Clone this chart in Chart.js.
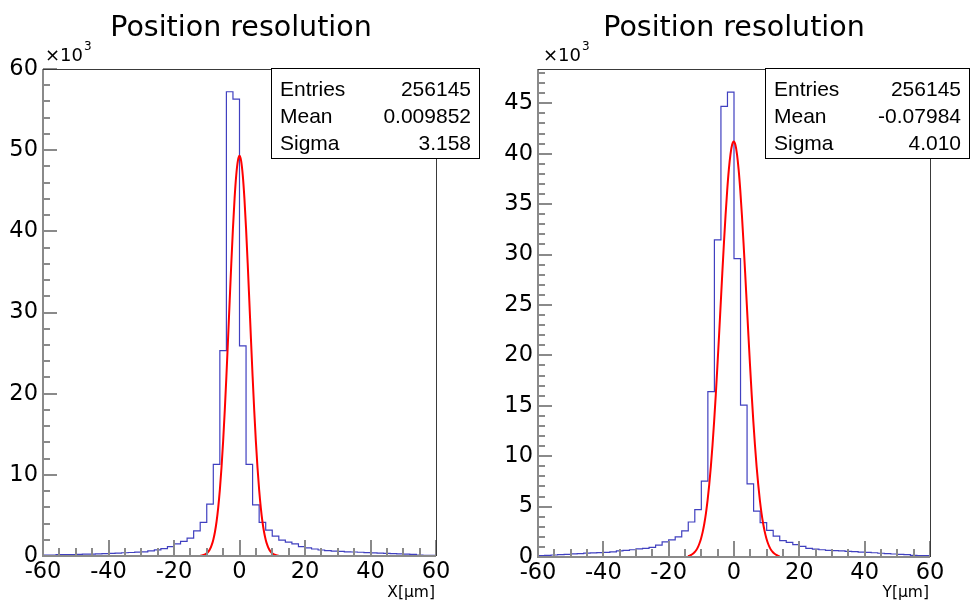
<!DOCTYPE html>
<html><head><meta charset="utf-8">
<script src="https://cdn.jsdelivr.net/npm/chart.js@4.4.1/dist/chart.umd.min.js"></script>
<style>
html,body{margin:0;padding:0;background:#fff;}
#wrap{position:relative;width:970px;height:606px;overflow:hidden;}
.c{position:absolute;top:0;width:485px;height:606px;}
</style></head><body>
<div id="wrap">
<div class="c" style="left:0"><canvas id="cx" width="485" height="606"></canvas></div>
<div class="c" style="left:485px"><canvas id="cy" width="485" height="606"></canvas></div>
</div>
<script>
// ---------- data (counts in units of 10^3) ----------
const BIN_MIN = -60, BIN_WIDTH = 2, BIN_COUNT = 60;
const xCounts = [0.08,0.10,0.12,0.16,0.17,0.18,0.20,0.22,0.24,0.27,
  0.30,0.33,0.36,0.40,0.43,0.47,0.52,0.62,0.75,0.90,
  1.15,1.50,1.80,2.20,3.10,4.15,6.40,11.3,25.3,57.2,
  56.3,25.9,11.3,6.30,4.15,3.20,2.45,1.95,1.70,1.50,
  1.15,1.00,0.86,0.74,0.66,0.60,0.56,0.52,0.49,0.46,
  0.42,0.39,0.36,0.33,0.29,0.25,0.22,0.19,0.12,0.08];
const yCounts = [0.13,0.14,0.16,0.20,0.23,0.27,0.31,0.34,0.38,0.40,
  0.44,0.46,0.50,0.60,0.65,0.72,0.80,0.85,0.96,1.18,
  1.50,1.70,2.00,2.60,3.47,4.69,7.53,16.4,31.45,44.7,
  46.1,29.6,15.06,7.26,4.55,3.40,2.65,2.07,1.63,1.45,
  1.22,1.06,0.86,0.78,0.72,0.66,0.63,0.60,0.56,0.53,
  0.48,0.45,0.42,0.37,0.33,0.30,0.26,0.23,0.16,0.13];
// gaussian fit curves (x in um, y in 10^3)
const xFitX = [-12,-11.5,-11,-10.5,-10,-9.5,-9,-8.5,-8,-7.5,-7,-6.5,-6,-5.5,-5,-4.5,-4,-3.5,-3,-2.5,-2,-1.5,-1,-0.5,0,
  0.5,1,1.5,2,2.5,3,3.5,4,4.5,5,5.5,6,6.5,7,7.5,8,8.5,9,9.5,10,10.5,11,11.5,12];
const xFitY = [0.037,0.066,0.116,0.199,0.332,0.541,0.859,1.33,2.01,2.96,4.25,5.96,8.15,10.87,14.12,17.91,22.15,26.72,31.43,36.07,40.36,44.06,46.90,48.69,49.3,
  48.69,46.90,44.06,40.36,36.07,31.43,26.72,22.15,17.91,14.12,10.87,8.15,5.96,4.25,2.96,2.01,1.33,0.859,0.541,0.332,0.199,0.116,0.066,0.037];
const yFitX = [-14.08,-13.58,-13.08,-12.58,-12.08,-11.58,-11.08,-10.58,-10.08,-9.58,-9.08,-8.58,-8.08,-7.58,-7.08,-6.58,-6.08,-5.58,-5.08,-4.58,-4.08,-3.58,-3.08,-2.58,-2.08,-1.58,-1.08,-0.58,-0.08,
  0.42,0.92,1.42,1.92,2.42,2.92,3.42,3.92,4.42,4.92,5.42,5.92,6.42,6.92,7.42,7.92,8.42,8.92,9.42,9.92,10.42,10.92,11.42,11.92,12.42,12.92,13.42,13.92];
const yFitY = [0.093,0.142,0.215,0.320,0.468,0.674,0.957,1.34,1.84,2.49,3.32,4.36,5.63,7.17,8.98,11.08,13.45,16.08,18.94,21.95,25.05,28.15,31.14,33.92,36.38,38.42,39.94,40.88,41.2,
  40.88,39.94,38.42,36.38,33.92,31.14,28.15,25.05,21.95,18.94,16.08,13.45,11.08,8.98,7.17,5.63,4.36,3.32,2.49,1.84,1.34,0.957,0.674,0.468,0.320,0.215,0.142,0.093];
const xTickValues = [-60,-40,-20,0,20,40,60];
const xLeftYTicks = [0,10,20,30,40,50,60];
const yRightYTicks = [0,5,10,15,20,25,30,35,40,45];
const statsX = {entries:'256145', mean:'0.009852', sigma:'3.158'};
const statsY = {entries:'256145', mean:'-0.07984', sigma:'4.010'};

const FONT = '"DejaVu Sans", sans-serif';
const BOXFONT = '"Liberation Sans", Arial, sans-serif';

function histPoints(counts){
  const pts = [];
  for (let i = 0; i < counts.length; i++) pts.push({x: BIN_MIN + i*BIN_WIDTH, y: counts[i]});
  pts.push({x: BIN_MIN + counts.length*BIN_WIDTH, y: counts[counts.length-1]});
  return pts;
}
function fitPoints(xs, ys){ return xs.map((x,i)=>({x, y: ys[i]})); }

function makeChart(id, o){
  const deco = {
    id: 'deco'+id,
    afterDraw(chart){
      const ctx = chart.ctx, ca = chart.chartArea, xs = chart.scales.x, ys = chart.scales.y;
      ctx.save();
      // ticks inside the frame
      ctx.strokeStyle = '#8a8a8a'; ctx.lineWidth = 2;
      ctx.beginPath();
      for (let v = -60; v <= 60; v += 5){
        const px = Math.round(xs.getPixelForValue(v));
        const len = (v % 20 === 0) ? 16 : 8;
        ctx.moveTo(px, ca.bottom); ctx.lineTo(px, ca.bottom - len);
      }
      for (let v = 0; v <= o.ymax + 1e-9; v += o.yMinor){
        const py = Math.round(ys.getPixelForValue(v));
        const len = (Math.abs(v/o.yMajor - Math.round(v/o.yMajor)) < 1e-6) ? 14 : 7;
        ctx.moveTo(ca.left, py); ctx.lineTo(ca.left + len, py);
      }
      ctx.stroke();
      // axis lines
      ctx.beginPath();
      ctx.moveTo(ca.left, ca.top); ctx.lineTo(ca.left, ca.bottom); ctx.lineTo(ca.right, ca.bottom);
      ctx.stroke();
      // top/right frame
      ctx.strokeStyle = '#3a3a3a'; ctx.lineWidth = 1;
      ctx.beginPath();
      ctx.moveTo(ca.left, Math.round(ca.top)+0.5); ctx.lineTo(Math.round(ca.right)+0.5, Math.round(ca.top)+0.5);
      ctx.lineTo(Math.round(ca.right)+0.5, ca.bottom);
      ctx.stroke();
      // title
      ctx.fillStyle = '#000';
      ctx.textBaseline = 'alphabetic';
      ctx.textAlign = 'center';
      ctx.font = '28.5px ' + FONT;
      ctx.fillText('Position resolution', o.titleX, 36);
      // x10^3
      ctx.textAlign = 'left';
      ctx.font = '18px ' + FONT;
      ctx.fillText('\u00d710', o.expX, 61);
      const w = ctx.measureText('\u00d710').width;
      ctx.font = '12px ' + FONT;
      ctx.fillText('3', o.expX + w + 1, 50);
      // axis label
      ctx.textAlign = 'right';
      ctx.font = '15.5px ' + FONT;
      ctx.fillText(o.axisLabel, ca.right - 1, 597);
      // stats box
      const b = o.box;
      ctx.fillStyle = '#fff';
      ctx.fillRect(b.x, b.y, b.w, b.h);
      ctx.strokeStyle = '#000'; ctx.lineWidth = 1;
      ctx.strokeRect(b.x + 0.5, b.y + 0.5, b.w, b.h);
      ctx.fillStyle = '#000';
      ctx.font = '21px ' + BOXFONT;
      const rows = [['Entries', o.stats.entries], ['Mean', o.stats.mean], ['Sigma', o.stats.sigma]];
      rows.forEach((r, i) => {
        const yy = 96 + i*27;
        ctx.textAlign = 'left'; ctx.fillText(r[0], b.x + 9, yy);
        ctx.textAlign = 'right'; ctx.fillText(r[1], b.x + b.w - 8, yy);
      });
      ctx.restore();
    }
  };
  return new Chart(document.getElementById(id), {
    type: 'line',
    data: { datasets: [
      { data: fitPoints(o.fitX, o.fitY), borderColor: '#ff0000', borderWidth: 2, pointRadius: 0,
        cubicInterpolationMode: 'monotone', fill: false, order: 1 },
      { data: histPoints(o.counts), stepped: 'after', borderColor: '#4040c0', borderWidth: 1.2,
        pointRadius: 0, fill: false, order: 2 }
    ]},
    options: {
      responsive: false, animation: false, devicePixelRatio: 1,
      layout: { padding: { top: 69, right: o.padRight, left: 0, bottom: 0 } },
      plugins: { legend: { display: false }, tooltip: { enabled: false }, title: { display: false } },
      scales: {
        x: {
          type: 'linear', min: -60, max: 60,
          grid: { display: false, drawTicks: false }, border: { display: false },
          afterBuildTicks: s => { s.ticks = xTickValues.map(v => ({ value: v })); },
          afterFit: s => { s.height = o.xh; },
          ticks: { font: { family: FONT, size: 22.5 }, color: '#000', padding: 3, maxRotation: 0,
                   autoSkip: false, callback: v => String(v) }
        },
        y: {
          type: 'linear', min: 0, max: o.ymax,
          grid: { display: false, drawTicks: false }, border: { display: false },
          afterBuildTicks: s => { s.ticks = o.yTicks.map(v => ({ value: v })); },
          afterFit: s => { s.width = o.yw; },
          ticks: { font: { family: FONT, size: 22.5 }, color: '#000', padding: 5,
                   autoSkip: false, callback: v => String(v) }
        }
      }
    },
    plugins: [deco]
  });
}

makeChart('cx', {
  counts: xCounts, fitX: xFitX, fitY: xFitY, ymax: 60, yTicks: xLeftYTicks, yMajor: 10, yMinor: 2,
  yw: 43, xh: 50, padRight: 49, titleX: 241, expX: 45, axisLabel: 'X[\u03bcm]',
  box: { x: 271, y: 68, w: 208, h: 90 }, stats: statsX
});
makeChart('cy', {
  counts: yCounts, fitX: yFitX, fitY: yFitY, ymax: 48.4, yTicks: yRightYTicks, yMajor: 5, yMinor: 1,
  yw: 53, xh: 49, padRight: 40, titleX: 249, expX: 58, axisLabel: 'Y[\u03bcm]',
  box: { x: 280, y: 68, w: 204, h: 90 }, stats: statsY
});
</script>
</body></html>
